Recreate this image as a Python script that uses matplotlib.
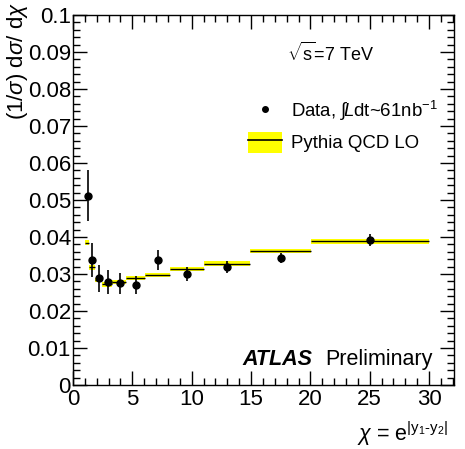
import numpy as np
from matplotlib import pyplot as plt
from matplotlib.lines import Line2D
from matplotlib.patches import Patch
from matplotlib.ticker import MultipleLocator

# chi bins (ln chi steps of 0.3) and Pythia QCD LO prediction
chi_edges = [1.0, 1.35, 1.82, 2.46, 3.32, 4.48, 6.05, 8.17, 11.02, 14.88, 20.09, 30.0]
mc = [0.0385, 0.0318, 0.0284, 0.0272, 0.0278, 0.0289, 0.0297, 0.0313, 0.0328, 0.0362, 0.0388]
mc_err = 0.0006

# data points
data_chi = [1.26, 1.63, 2.22, 2.98, 3.96, 5.31, 7.16, 9.64, 13.0, 17.5, 25.05]
data = [0.0512, 0.0338, 0.0288, 0.0278, 0.0275, 0.0270, 0.0337, 0.0300, 0.0320, 0.0344, 0.0392]
data_err = [0.0068, 0.0047, 0.0037, 0.0032, 0.0028, 0.0024, 0.0027, 0.0018, 0.0016, 0.0014, 0.0016]

ytick_labels = ["0", "0.01", "0.02", "0.03", "0.04", "0.05", "0.06", "0.07", "0.08", "0.09", "0.1"]

plt.rcParams["font.family"] = ["Liberation Sans", "DejaVu Sans"]
plt.rcParams["mathtext.fontset"] = "custom"
plt.rcParams["mathtext.rm"] = "Liberation Sans"
plt.rcParams["mathtext.it"] = "Liberation Sans:italic"
plt.rcParams["mathtext.bf"] = "Liberation Sans:bold"

fig = plt.figure(figsize=(4.65, 4.49), dpi=100)
ax = fig.add_axes([73 / 465, 1 - 385 / 449, 381 / 465, 370 / 449])

edges = np.array(chi_edges)
mc = np.array(mc)
ax.bar(edges[:-1], 2 * mc_err, bottom=mc - mc_err, width=np.diff(edges), align="edge",
       color="#ffff00", linewidth=0)
ax.hlines(mc, edges[:-1], edges[1:], color="black", linewidth=1.0)

ax.errorbar(data_chi, data, yerr=data_err, fmt="o", color="black", markersize=5,
            elinewidth=1.2, capsize=0)

ax.set_xlim(0, 32.1)
ax.set_ylim(0, 0.1)
ax.xaxis.set_major_locator(MultipleLocator(5))
ax.xaxis.set_minor_locator(MultipleLocator(1))
ax.yaxis.set_minor_locator(MultipleLocator(0.002))
ax.set_yticks(np.arange(0, 0.1001, 0.01))
ax.set_yticklabels(ytick_labels)
ax.tick_params(which="both", direction="in", top=True, right=True, labelsize=16, width=1)
ax.tick_params(which="major", length=10)
ax.tick_params(which="minor", length=5)
ax.tick_params(axis="x", pad=3)
ax.tick_params(axis="y", pad=1.5)
for s in ax.spines.values():
    s.set_linewidth(1)

fig.text(17 / 465, 1 - 2 / 449, r"(1/$\sigma$) d$\sigma$/ d$\chi$", fontsize=16,
         rotation=90, ha="center", va="top")
ax.set_xlabel(r"$\chi$ = e$^{|\mathregular{y_1}\text{-}\mathregular{y_2}|}$", fontsize=15.5, loc="right")
ax.xaxis.set_label_coords(0.985, -0.132)
ax.xaxis.label.set_va("center")

ax.text(0.562, 0.897, r"$\sqrt{\mathregular{s}}$=7 TeV", transform=ax.transAxes, fontsize=13,
        va="center")

handles = [
    Line2D([], [], marker="o", color="black", linestyle="none", markersize=4),
    (Patch(facecolor="#ffff00", edgecolor="none"), Line2D([], [], color="black", linewidth=1.2)),
]
labels = [r"Data, $\int\!L$dt~61nb$^{-1}$", "Pythia QCD LO"]
ax.legend(handles, labels, loc="upper left", bbox_to_anchor=(0.46, 0.772), frameon=False,
          fontsize=13.4, handlelength=1.83, handleheight=1.35, handletextpad=0.45,
          labelspacing=0.45, borderpad=0, borderaxespad=0)

ax.text(0.446, 0.070, "ATLAS", transform=ax.transAxes, fontsize=15.5, fontweight="bold",
        fontstyle="italic", va="center")
ax.text(0.661, 0.070, "Preliminary", transform=ax.transAxes, fontsize=15.5, va="center")

fig.savefig("out.png", dpi=100)
